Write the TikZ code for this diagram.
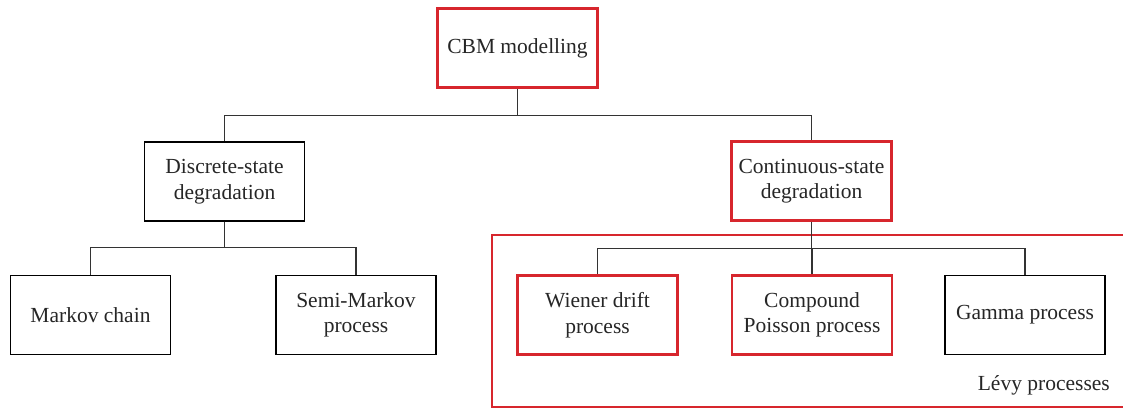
\documentclass[tikz,border=0pt]{standalone}
\usepackage{fontspec}
\setmainfont{Liberation Serif}
\definecolor{cbmred}{RGB}{215,38,45}
\tikzset{every picture/.style={line width=1pt}}
\tikzset{
  box/.style={draw=black, line width=1.3pt, fill=white, minimum width=160pt, minimum height=79pt, align=center, inner sep=1pt, font=\fontsize{21.5}{25.5}\selectfont, text=black!85},
  redbox/.style={box, draw=cbmred, line width=2.6pt},
  link/.style={draw=black!80, line width=1.2pt}
}

\begin{document}
\begin{tikzpicture}[x=1pt,y=1pt,yscale=-1,xscale=1]
\useasboundingbox (0,0) rectangle (1123,408);

%Shape: Levy region
\draw [cbmred, line width=2.6pt] (1130,235) -- (492,235) -- (492,407) -- (1130,407) ;

% Text Node
\node (cbm) [redbox] at (517.5,48) {CBM modelling};
% Text Node
\node (discrete) [box] at (224.5,181.5) {Discrete-state\\degradation};
% Text Node
\node (continuous) [redbox] at (811.5,181) {Continuous-state\\degradation};
% Text Node
\node (markov) [box] at (90.5,315) {Markov chain};
% Text Node
\node (semimarkov) [box] at (356,315) {Semi-Markov\\process};
% Text Node
\node (wiener) [redbox] at (597.5,315) {Wiener drift\\process};
% Text Node
\node (poisson) [redbox] at (812,315) {Compound\\Poisson process};
% Text Node
\node (gamma) [box] at (1025,315) {Gamma process};
% Text Node
\node (levy) [anchor=east, inner sep=0.75pt, font=\fontsize{21.5}{25.5}\selectfont, text=black!85] at (1111,385) {Lévy processes};

%Straight Lines
\draw [link] (cbm.south) -- ++(0,27) -| (discrete.north) ;
\draw [link] (cbm.south) -- ++(0,27) -| (continuous.north) ;
\draw [link] (discrete.south) -- ++(0,26) -| (markov.north) ;
\draw [link] (discrete.south) -- ++(0,26) -| (semimarkov.north) ;
\draw [link] (continuous.south) -- ++(0,27) -| (wiener.north) ;
\draw [link] (continuous.south) -- ++(0,27) -| (poisson.north) ;
\draw [link] (continuous.south) -- ++(0,27) -| (gamma.north) ;

\end{tikzpicture}
\end{document}
